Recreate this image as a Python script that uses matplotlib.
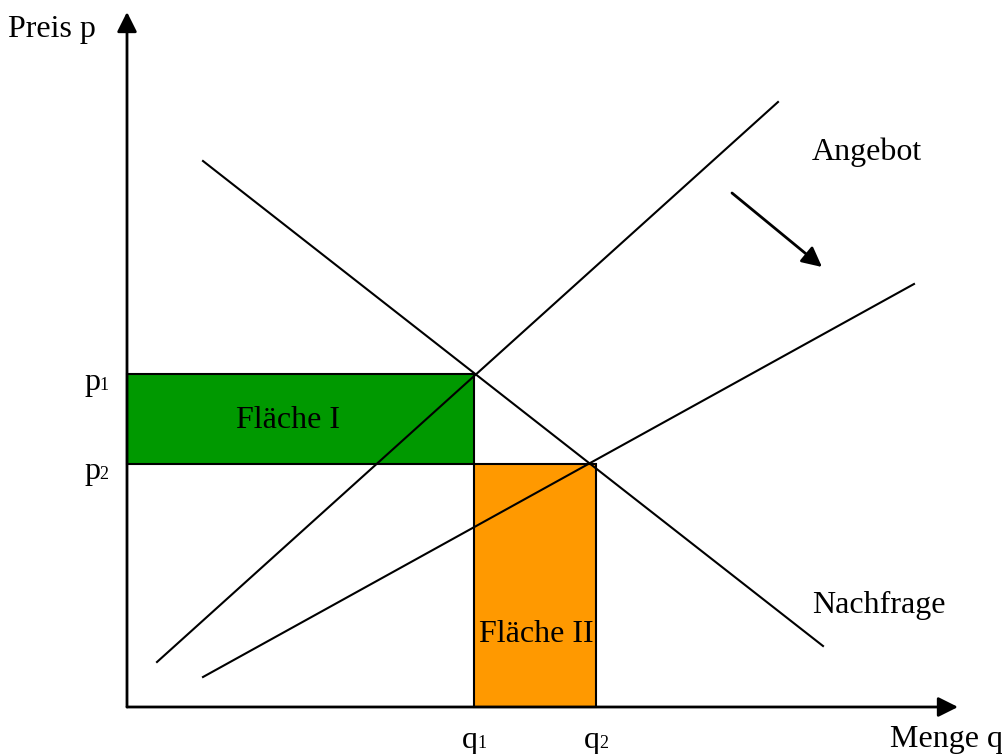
import matplotlib.pyplot as plt
from matplotlib.patches import Rectangle

plt.rcParams['font.family'] = ['Liberation Serif', 'DejaVu Serif']

# quantities and prices at the two equilibria
q1, q2 = 347, 469
p1, p2 = 333, 243

# curve endpoints (q, p)
supply_old = ([30, 651], [45, 605])
supply_new = ([76, 787], [30, 423])
demand = ([76, 696], [546, 61])

q_max, p_max = 831, 695

fig = plt.figure(figsize=(10.02, 7.54), dpi=100)
ax = fig.add_axes([0, 0, 1, 1])
ax.set_xlim(-127, 875)
ax.set_ylim(-47, 707)
ax.axis('off')

# areas
ax.add_patch(Rectangle((0, p2), q1, p1 - p2, facecolor='#009900',
                       edgecolor='black', lw=1.5, zorder=1))
ax.add_patch(Rectangle((q1, 0), q2 - q1, p2, facecolor='#ff9900',
                       edgecolor='black', lw=1.5, zorder=1))

# curves
for qs, ps in (supply_old, supply_new, demand):
    ax.plot(qs, ps, color='black', lw=1.5, zorder=2)

# axes with arrow heads
arrow = dict(arrowstyle='-|>', color='black', lw=2, mutation_scale=30,
             shrinkA=0, shrinkB=0)
ax.annotate('', xy=(0, p_max), xytext=(0, 0), arrowprops=arrow, zorder=3)
ax.annotate('', xy=(q_max, 0), xytext=(0, 0), arrowprops=arrow, zorder=3)

# shift of supply
ax.annotate('', xy=(695, 440), xytext=(605, 514), arrowprops=arrow)

fs = 23
ax.text(-119, 677, 'Preis p', fontsize=fs, va='center', ha='left')
ax.text(763, -33, 'Menge q', fontsize=fs, va='center', ha='left')
ax.text(685, 555, 'Angebot', fontsize=fs, va='center', ha='left')
ax.text(685, 102, 'Nachfrage', fontsize=fs, va='center', ha='left')
ax.text(161, 287, 'Fläche I', fontsize=fs, va='center', ha='center')
ax.text(409, 73, 'Fläche II', fontsize=fs, va='center', ha='center')

# tick labels with small index
def label(x, y, base, idx):
    ax.text(x, y, base, fontsize=fs, va='baseline', ha='left')
    ax.text(x + 15, y, idx, fontsize=13, va='baseline', ha='left')

label(-43, 317, 'p', '1')
label(-43, 228, 'p', '2')
label(q1 - 12, -41, 'q', '1')
label(q2 - 12, -41, 'q', '2')

fig.savefig('out.png', dpi=100)
